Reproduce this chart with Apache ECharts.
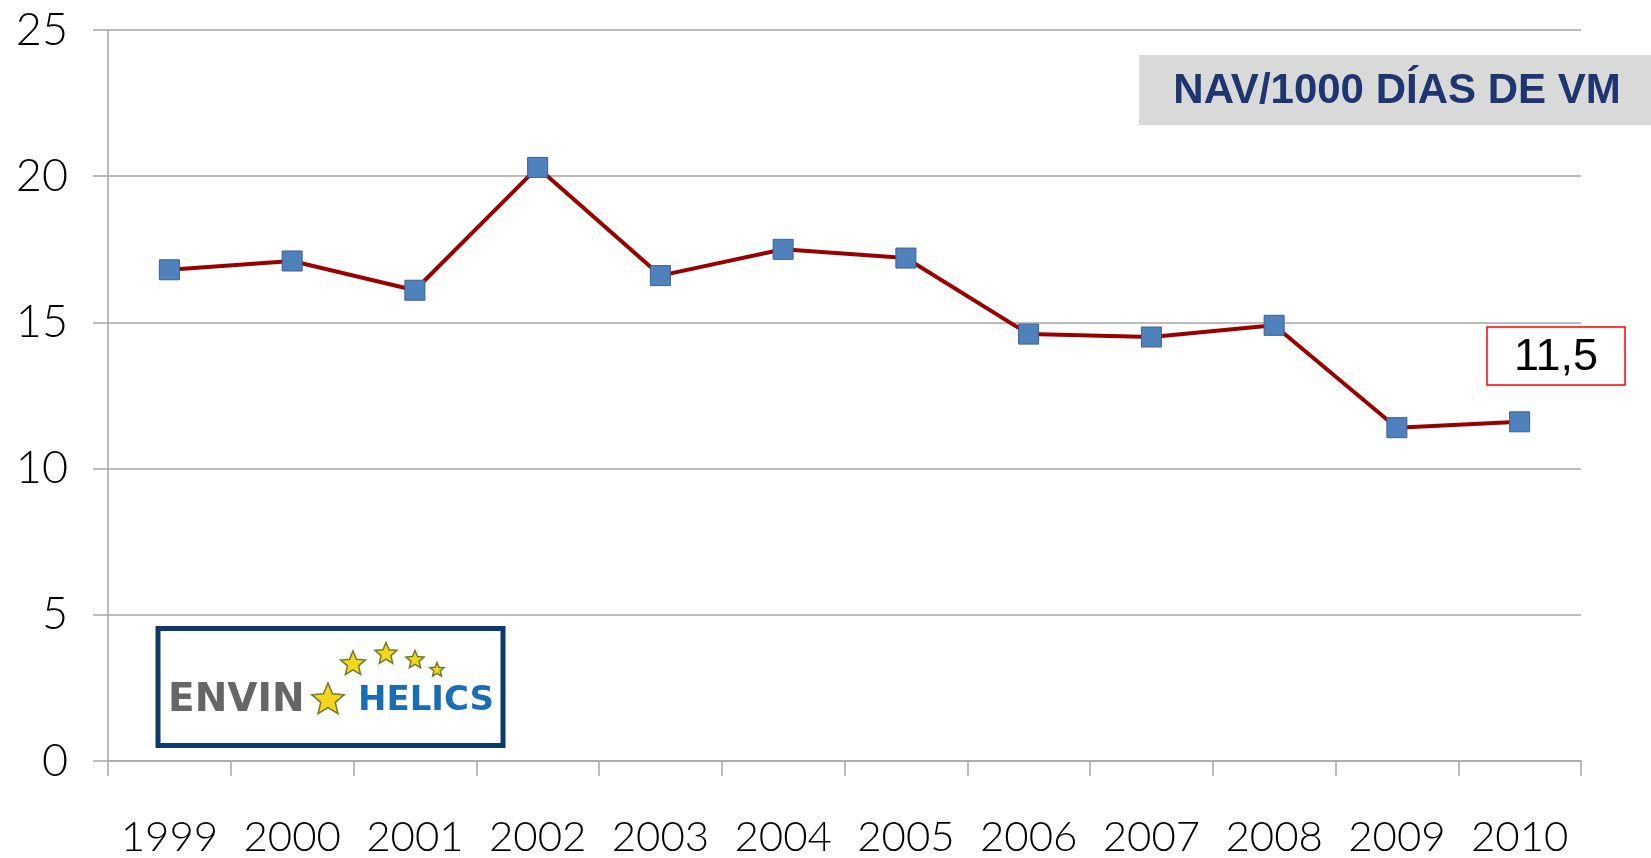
<!DOCTYPE html>
<html>
<head>
<meta charset="utf-8">
<script src="https://cdn.jsdelivr.net/npm/echarts@6/dist/echarts.min.js"></script>
<style>
html,body{margin:0;padding:0;background:#fff;}
#main{width:1651px;height:858px;}
</style>
</head>
<body>
<div id="main"></div>
<script>
const categories = ['1999','2000','2001','2002','2003','2004','2005','2006','2007','2008','2009','2010'];
const navValues = [16.8, 17.1, 16.1, 20.3, 16.6, 17.5, 17.2, 14.6, 14.5, 14.9, 11.4, 11.6];
const yTicks = [0, 5, 10, 15, 20, 25];
const chartTitle = 'NAV/1000 DÍAS DE VM';
const annotationText = '11,5';

function starPoints(cx, cy, R, r) {
  const pts = [];
  for (let i = 0; i < 10; i++) {
    const a = -Math.PI / 2 + i * Math.PI / 5;
    const rad = i % 2 === 0 ? R : r;
    pts.push([cx + rad * Math.cos(a), cy + rad * Math.sin(a)]);
  }
  return pts;
}
function star(cx, cy, R) {
  return {
    type: 'polygon',
    shape: { points: starPoints(cx, cy, R, R * 0.45) },
    style: { fill: '#f3d51c', stroke: '#6f7b2c', lineWidth: 1.5 }
  };
}

const chart = echarts.init(document.getElementById('main'));
const axisFont = 'Lato, "Noto Sans", sans-serif';
chart.setOption({
  backgroundColor: '#ffffff',
  animation: false,
  grid: { left: 108, right: 70, top: 30, bottom: 95 },
  xAxis: {
    type: 'category',
    data: categories,
    boundaryGap: true,
    axisLine: { show: true, lineStyle: { color: '#a6a6a6', width: 1.5 } },
    axisTick: { show: true, interval: 0, length: 15, lineStyle: { color: '#a6a6a6', width: 1.5 } },
    axisLabel: { interval: 0, margin: 55, fontSize: 42, color: '#000', fontFamily: axisFont, fontWeight: 300 },
    splitLine: { show: false }
  },
  yAxis: {
    type: 'value',
    min: yTicks[0],
    max: yTicks[yTicks.length - 1],
    interval: 5,
    axisLine: { show: true, lineStyle: { color: '#a6a6a6', width: 1.5 } },
    axisTick: { show: true, length: 15, lineStyle: { color: '#a6a6a6', width: 1.5 } },
    axisLabel: { margin: 40, fontSize: 45, color: '#000', fontFamily: axisFont, fontWeight: 300 },
    splitLine: { show: true, lineStyle: { color: '#a6a6a6', width: 1.5 } }
  },
  series: [{
    type: 'line',
    data: navValues,
    symbol: 'rect',
    symbolSize: 20,
    lineStyle: { color: '#990000', width: 4 },
    itemStyle: { color: '#4f81bd', borderColor: '#3b5f92', borderWidth: 1 },
    z: 3
  }],
  graphic: [
    {
      type: 'rect',
      shape: { x: 1139, y: 55, width: 512, height: 70 },
      style: { fill: '#d9d9d9' }
    },
    {
      type: 'text',
      x: 1397, y: 91,
      style: {
        text: chartTitle,
        fill: '#1f3570',
        font: 'bold 42px "Liberation Sans", Arial, sans-serif',
        align: 'center',
        verticalAlign: 'middle'
      }
    },
    {
      type: 'rect',
      shape: { x: 1487, y: 327, width: 138, height: 58 },
      style: { fill: '#ffffff', stroke: '#ff0000', lineWidth: 1.5 }
    },
    {
      type: 'text',
      x: 1556, y: 358,
      style: {
        text: annotationText,
        fill: '#000',
        font: '45px "Liberation Sans", Arial, sans-serif',
        align: 'center',
        verticalAlign: 'middle'
      }
    },
    {
      type: 'group',
      children: [
        {
          type: 'rect',
          shape: { x: 158, y: 628.5, width: 345, height: 117 },
          style: { fill: '#ffffff', stroke: '#0c3a6e', lineWidth: 5 }
        },
        {
          type: 'text',
          x: 168, y: 701,
          style: {
            text: 'ENVIN',
            fill: '#666666',
            font: 'bold 39px "DejaVu Sans", sans-serif',
            align: 'left',
            verticalAlign: 'middle'
          }
        },
        {
          type: 'text',
          x: 358, y: 701,
          style: {
            text: 'HELICS',
            fill: '#1a6db5',
            font: 'bold 34px "DejaVu Sans", sans-serif',
            align: 'left',
            verticalAlign: 'middle'
          }
        },
        star(328, 700, 17),
        star(353, 664, 13),
        star(386, 654, 11.5),
        star(415, 660, 9.5),
        star(437, 670, 7.5)
      ]
    }
  ]
});
</script>
</body>
</html>
